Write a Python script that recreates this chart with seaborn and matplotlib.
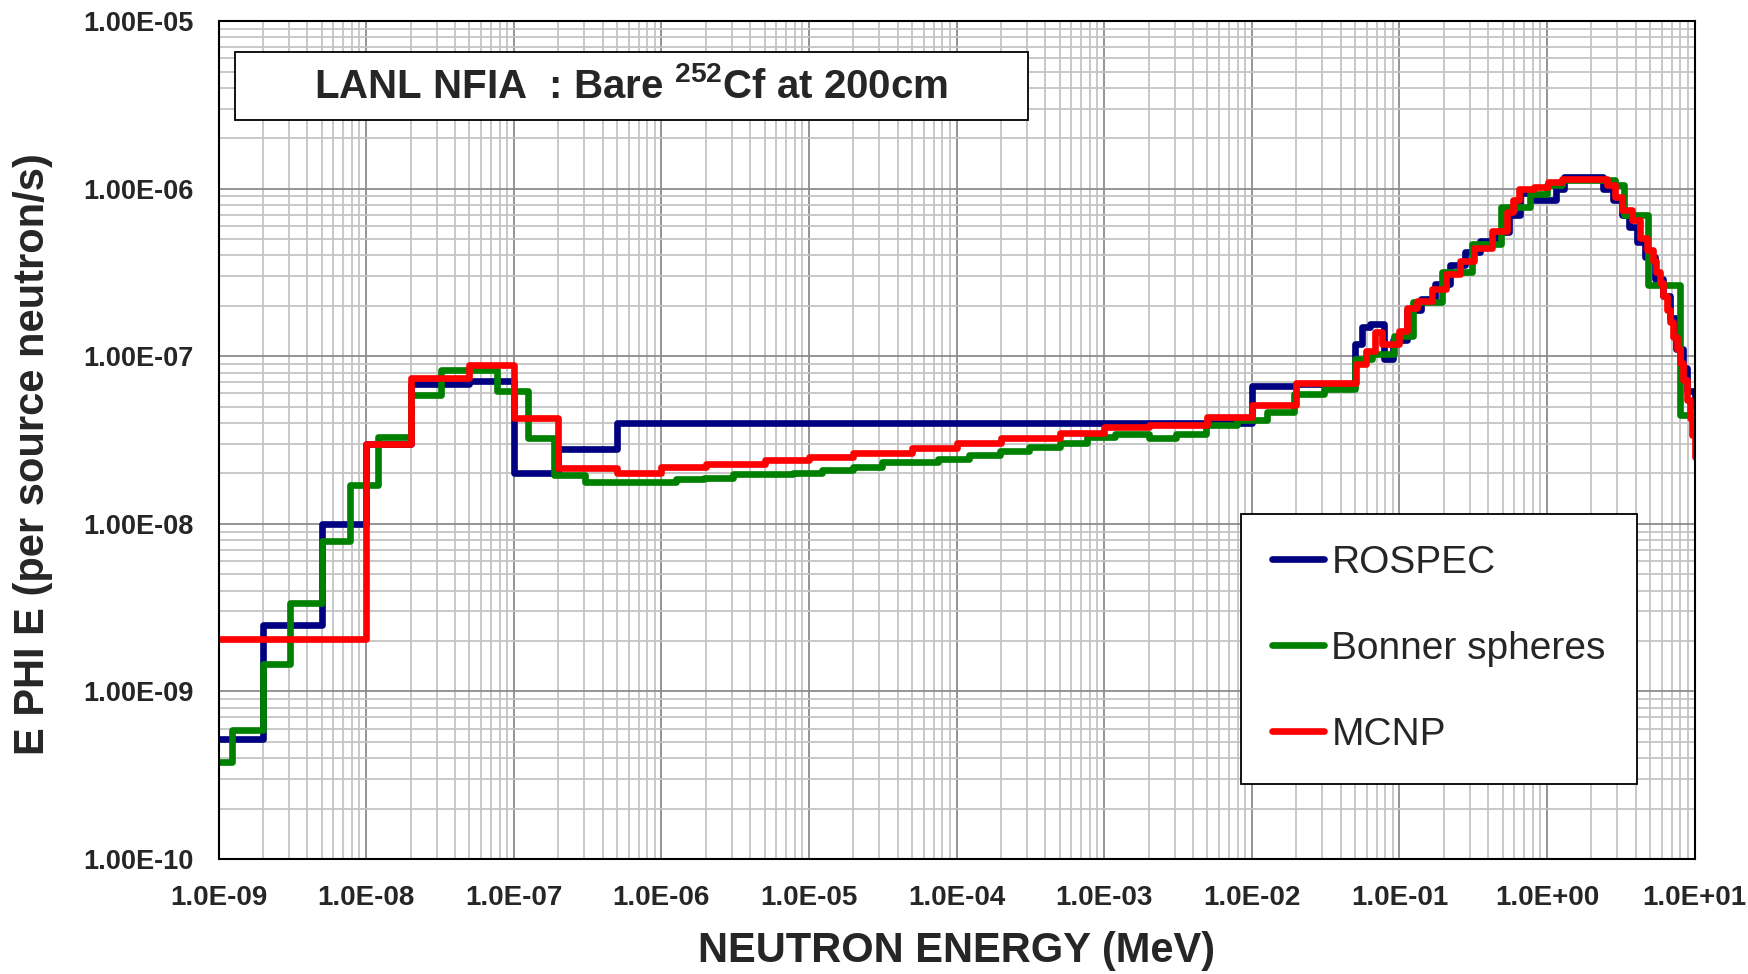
import numpy as np
import pandas as pd
import matplotlib
matplotlib.use("Agg")
import matplotlib.pyplot as plt
import seaborn as sns
from matplotlib.ticker import FuncFormatter, LogLocator, NullFormatter
from matplotlib.patches import Rectangle

# ---- data (step spectra, value holds from each energy to the next) ----
rospec_e = [1e-9, 2e-9, 5e-9, 1e-8, 2e-8, 5e-8, 1e-7, 2e-7, 5e-7, 1e-2, 2e-2, 5e-2,
            5.6e-2, 6.3e-2, 7.9e-2, 9.0e-2, 0.112, 0.14, 0.175, 0.22, 0.28, 0.35, 0.45,
            0.55, 0.66, 0.81, 1.15, 1.3, 2.4, 2.8, 3.2, 3.6, 4.1, 4.6, 5.4, 6.1, 6.8,
            7.5, 8.3, 8.9, 10]
rospec_phi = [5.2e-10, 2.5e-9, 1.0e-8, 3.0e-8, 6.8e-8, 7.1e-8, 2.0e-8, 2.8e-8, 4.0e-8,
              6.65e-8, 6.8e-8, 1.18e-7, 1.49e-7, 1.56e-7, 9.6e-8, 1.25e-7, 1.9e-7, 2.2e-7,
              2.7e-7, 3.5e-7, 4.2e-7, 4.9e-7, 5.5e-7, 7.0e-7, 9.4e-7, 8.6e-7, 1.0e-6,
              1.17e-6, 9.9e-7, 8.6e-7, 7.0e-7, 5.9e-7, 4.8e-7, 3.9e-7, 2.9e-7, 2.3e-7,
              1.7e-7, 1.1e-7, 8.5e-8, 6.2e-8, 5.0e-8]

bonner_e = [1e-9, 1.23e-9, 2e-9, 3.06e-9, 5e-9, 7.8e-9, 1.21e-8, 2e-8, 3.2e-8, 7.7e-8,
            1.24e-7, 1.88e-7, 3.05e-7, 1.25e-6, 1.95e-6, 3.05e-6, 7.8e-6, 1.23e-5, 2e-5,
            3.13e-5, 7.45e-5, 1.21e-4, 1.97e-4, 3.09e-4, 5e-4, 7.6e-4, 1.19e-3, 2e-3,
            3.05e-3, 4.9e-3, 7.9e-3, 1.27e-2, 1.93e-2, 3.1e-2, 5e-2, 6.5e-2, 9.2e-2,
            0.124, 0.195, 0.31, 0.49, 0.77, 1.0, 1.26, 2.9, 3.3, 4.85, 7.97, 10]
bonner_phi = [3.77e-10, 5.9e-10, 1.46e-9, 3.37e-9, 7.95e-9, 1.71e-8, 3.28e-8, 5.85e-8,
              8.3e-8, 6.2e-8, 3.24e-8, 1.95e-8, 1.78e-8, 1.84e-8, 1.89e-8, 1.97e-8,
              2.02e-8, 2.1e-8, 2.17e-8, 2.35e-8, 2.45e-8, 2.57e-8, 2.73e-8, 2.88e-8,
              3.05e-8, 3.28e-8, 3.43e-8, 3.25e-8, 3.46e-8, 3.9e-8, 4.15e-8, 4.65e-8,
              5.97e-8, 6.4e-8, 9.6e-8, 1.03e-7, 1.33e-7, 2.1e-7, 3.2e-7, 4.65e-7, 7.8e-7,
              9.3e-7, 1.05e-6, 1.12e-6, 1.05e-6, 6.97e-7, 2.66e-7, 4.45e-8, 4.45e-8]

mcnp_e = [1e-9, 1e-8, 2e-8, 5e-8, 1e-7, 2e-7, 5e-7, 1e-6, 2e-6, 5e-6, 1e-5, 2e-5, 5e-5,
          1e-4, 2e-4, 5e-4, 1e-3, 2e-3, 5e-3, 1e-2, 2e-2, 5.1e-2, 5.9e-2, 6.8e-2, 7.6e-2,
          0.1, 0.112, 0.132, 0.165, 0.206, 0.258, 0.322, 0.426, 0.533, 0.59, 0.647, 0.81,
          1.02, 1.26, 2.53, 2.89, 3.21, 3.75, 4.27, 4.74, 5.25, 5.5, 5.83, 6.15, 6.47,
          6.8, 7.18, 7.55, 7.97, 8.4, 8.85, 9.3, 9.6, 10]
mcnp_phi = [2.05e-9, 3.0e-8, 7.43e-8, 8.9e-8, 4.3e-8, 2.14e-8, 2.02e-8, 2.17e-8, 2.27e-8,
            2.4e-8, 2.49e-8, 2.65e-8, 2.82e-8, 3.02e-8, 3.26e-8, 3.47e-8, 3.77e-8, 3.9e-8,
            4.35e-8, 5.1e-8, 6.95e-8, 9.0e-8, 1.08e-7, 1.39e-7, 1.18e-7, 1.41e-7, 1.95e-7,
            2.14e-7, 2.51e-7, 3.08e-7, 3.7e-7, 4.44e-7, 5.6e-7, 7.3e-7, 8.6e-7, 9.9e-7,
            1.03e-6, 1.1e-6, 1.15e-6, 1.05e-6, 8.95e-7, 7.47e-7, 6.5e-7, 5.05e-7, 4.3e-7,
            3.7e-7, 3.2e-7, 2.72e-7, 2.3e-7, 1.89e-7, 1.6e-7, 1.31e-7, 1.1e-7, 9.1e-8,
            7.2e-8, 5.5e-8, 4.3e-8, 3.4e-8, 2.5e-8]

series_names = ["ROSPEC", "Bonner spheres", "MCNP"]
series_colors = ["#000080", "#008000", "#ff0000"]

df = pd.concat([
    pd.DataFrame({"energy": rospec_e, "flux": rospec_phi, "series": "ROSPEC"}),
    pd.DataFrame({"energy": bonner_e, "flux": bonner_phi, "series": "Bonner spheres"}),
    pd.DataFrame({"energy": mcnp_e, "flux": mcnp_phi, "series": "MCNP"}),
], ignore_index=True)

sns.set_style("white")
plt.rcParams["font.family"] = ["Liberation Sans", "DejaVu Sans"]
plt.rcParams["font.weight"] = "bold"
plt.rcParams["mathtext.fontset"] = "custom"
plt.rcParams["mathtext.bf"] = "Liberation Sans:bold"
plt.rcParams["mathtext.rm"] = "Liberation Sans:bold"

fig = plt.figure(figsize=(17.49, 9.74), dpi=100)
ax = fig.add_axes([0.125, 0.1181, 0.8439, 0.8602])
ax.set_xscale("log")
ax.set_yscale("log")

sns.lineplot(
    data=df, x="energy", y="flux", hue="series",
    hue_order=series_names, palette=series_colors,
    estimator=None, sort=False, drawstyle="steps-post",
    linewidth=4.8, ax=ax,
)

ax.set_xlim(1e-9, 10)
ax.set_ylim(1e-10, 1e-5)

# ticks
ax.xaxis.set_major_locator(LogLocator(base=10, numticks=20))
ax.xaxis.set_minor_locator(LogLocator(base=10, subs=np.arange(2, 10), numticks=200))
ax.yaxis.set_major_locator(LogLocator(base=10, numticks=20))
ax.yaxis.set_minor_locator(LogLocator(base=10, subs=np.arange(2, 10), numticks=200))
ax.xaxis.set_major_formatter(FuncFormatter(lambda v, p: f"{v:.1E}"))
ax.yaxis.set_major_formatter(FuncFormatter(lambda v, p: f"{v:.2E}"))
ax.xaxis.set_minor_formatter(NullFormatter())
ax.yaxis.set_minor_formatter(NullFormatter())
ax.tick_params(axis="x", which="major", direction="out", length=7, width=1.2,
               labelsize=20, pad=12)
ax.tick_params(axis="x", which="minor", direction="in", length=9, width=1)
ax.tick_params(axis="y", which="major", direction="out", length=9, width=1.2,
               labelsize=19.5, pad=9)
ax.tick_params(axis="y", which="minor", direction="out", length=5, width=1)

# grid
ax.grid(which="major", color="#8c8c8c", linewidth=1.3)
ax.grid(which="minor", color="#c4c4c4", linewidth=1.3)
ax.set_axisbelow(True)
for sp in ax.spines.values():
    sp.set_visible(True)
    sp.set_color("black")
    sp.set_linewidth(1.5)

# labels
ax.set_xlabel("NEUTRON ENERGY (MeV)", fontsize=30, fontweight="bold")
ax.xaxis.set_label_coords(0.5, -0.11)
ax.xaxis.label.set_verticalalignment("center")
ax.set_ylabel("E PHI E (per source neutron/s)", fontsize=30, fontweight="bold")
ax.yaxis.set_label_coords(-0.1257, 0.483)
ax.yaxis.label.set_verticalalignment("center")

# title box
fig.add_artist(Rectangle((0.1344, 0.8768), 0.4534, 0.0698, transform=fig.transFigure,
                         facecolor="white", edgecolor="black", linewidth=1.3, zorder=5))
fig.text(0.361, 0.9117, r"LANL NFIA  : Bare $^{\mathbf{252}}$Cf at 200cm",
         fontsize=29, fontweight="bold", ha="center", va="center", zorder=6)

# legend
handles, labels = ax.get_legend_handles_labels()
leg = ax.legend(handles, labels, loc="upper left", bbox_to_anchor=(0.6927, 0.4118),
                borderaxespad=0, prop={"size": 28, "weight": "normal"}, frameon=True,
                fancybox=False, edgecolor="black", framealpha=1, handlelength=1.34,
                handletextpad=0.18, labelspacing=1.28, borderpad=0.8)
leg.get_frame().set_linewidth(1.3)

fig.savefig("out.png", dpi=100)
